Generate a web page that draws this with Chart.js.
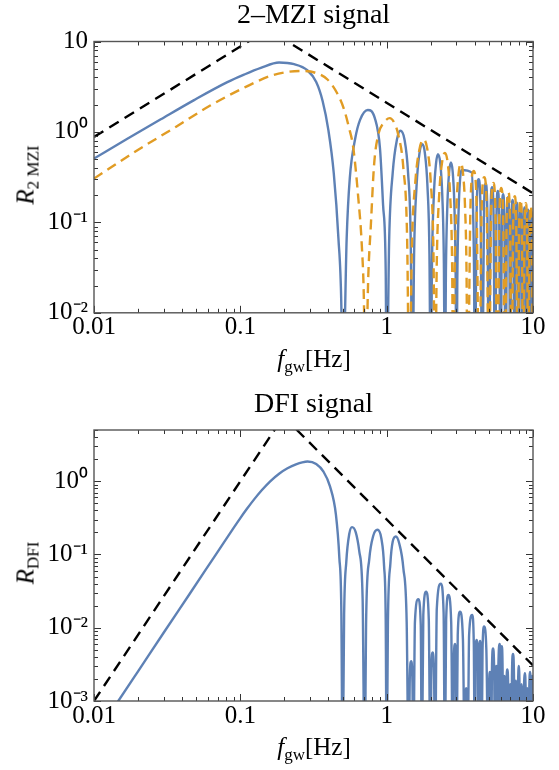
<!DOCTYPE html>
<html>
<head>
<meta charset="utf-8">
<title>2-MZI and DFI signal</title>
<script src="https://cdn.jsdelivr.net/npm/chart.js@4.4.1/dist/chart.umd.min.js"></script>
<style>
  body { margin: 0; background: #fff; }
  #page { position: relative; width: 559px; height: 770px; overflow: hidden;
          font-family: "Liberation Serif", "Times New Roman", serif; color: #000; }
  .plot { position: absolute; left: 0; width: 559px; height: 385px; }
  .title { position: absolute; left: 94px; width: 439px; text-align: center;
           font-size: 28px; line-height: 28px; }
  .lab { position: absolute; transform: translate(-50%, -50%); white-space: nowrap;
         font-size: 25px; line-height: 25px; }
  .ylab { transform: translate(-50%, -50%) rotate(-90deg); }
  .lab sub { font-size: 17px; vertical-align: -5px; line-height: 0; }
</style>
</head>
<body>
<div id="page">
  <div class="plot" style="top:0"><canvas id="mziChart" width="559" height="385"></canvas></div>
  <div class="plot" style="top:385px"><canvas id="dfiChart" width="559" height="385"></canvas></div>

  <div class="title" style="top:0">2–MZI signal</div>
  <div class="lab" style="left:314px; top:358px"><i>f</i><sub>gw</sub>[Hz]</div>
  <div class="lab ylab" style="left:25px; top:175px"><i>R</i><sub>2 MZI</sub></div>

  <div class="title" style="top:389px">DFI signal</div>
  <div class="lab" style="left:314px; top:746px"><i>f</i><sub>gw</sub>[Hz]</div>
  <div class="lab ylab" style="left:25px; top:563px"><i>R</i><sub>DFI</sub></div>
</div>
<script>
// tick values
const freqTicks = [0.01, 0.1, 1, 10];
const mziYTicks = [0.01, 0.1, 1, 10];
const dfiYTicks = [0.001, 0.01, 0.1, 1];

// 2-MZI, solid blue curve (zeros put below the axis)
const mziFreq = [
  0.01, 0.0169, 0.0286, 0.0483, 0.0815, 0.106, 0.138, 0.184, 0.233, 0.287, 0.33, 0.365, 0.4, 0.435, 0.468, 0.49, 0.5,
  0.533, 0.56, 0.61, 0.658, 0.743, 0.83, 0.9, 0.945, 0.985, 1.0,
  1.04, 1.1, 1.175, 1.24, 1.325, 1.4, 1.46, 1.5,
  1.54, 1.6, 1.675, 1.76, 1.825, 1.9, 1.96, 2.0,
  2.04, 2.1, 2.175, 2.24, 2.325, 2.4, 2.46, 2.5,
  2.54, 2.6, 2.675, 2.75, 2.825, 2.9, 2.96, 3.0,
  3.04, 3.1, 3.175, 3.24, 3.82, 3.9, 3.96, 4.0,
  4.125, 4.25, 4.375, 4.5, 4.625, 4.75, 4.875, 5.0,
  5.125, 5.25, 5.375, 5.5, 5.625, 5.75, 5.875, 6.0,
  6.125, 6.25, 6.375, 6.5, 6.625, 6.75, 6.875, 7.0,
  7.125, 7.25, 7.375, 7.5, 7.625, 7.75, 7.875, 8.0,
  8.125, 8.25, 8.375, 8.5, 8.625, 8.75, 8.875, 9.0,
  9.125, 9.25, 9.375, 9.5, 9.625, 9.75, 9.875, 10.0
];
const mziSolid = [
  0.508, 0.84, 1.38, 2.25, 3.55, 4.3, 5.1, 5.85, 5.61, 4.81, 3.57, 2.2, 1.04, 0.35, 0.067, 0.012, 0.001,
  0.067, 0.31, 0.85, 1.36, 1.75, 1.42, 0.66, 0.156, 0.029, 0.001,
  0.064, 0.355, 0.82, 1.03, 0.82, 0.355, 0.064, 0.001,
  0.045, 0.25, 0.58, 0.73, 0.58, 0.25, 0.045, 0.001,
  0.035, 0.196, 0.45, 0.567, 0.45, 0.196, 0.035, 0.001,
  0.028, 0.159, 0.365, 0.46, 0.365, 0.159, 0.028, 0.001,
  0.024, 0.13, 0.3, 0.38, 0.355, 0.125, 0.022, 0.001,
  0.15, 0.3, 0.15, 0.001, 0.135, 0.27, 0.135, 0.001,
  0.122, 0.245, 0.122, 0.001, 0.111, 0.222, 0.111, 0.001,
  0.102, 0.205, 0.102, 0.001, 0.095, 0.19, 0.095, 0.001,
  0.088, 0.177, 0.088, 0.001, 0.082, 0.165, 0.082, 0.001,
  0.077, 0.155, 0.077, 0.001, 0.073, 0.146, 0.073, 0.001,
  0.069, 0.138, 0.069, 0.001, 0.065, 0.131, 0.065, 0.001
];

// 2-MZI, dashed orange curve
const mziDashFreq = [
  0.01, 0.0198, 0.0362, 0.0627, 0.109, 0.161, 0.21, 0.267, 0.327, 0.394, 0.46, 0.51, 0.55, 0.592, 0.64, 0.676, 0.7, 0.714,
  0.748, 0.78, 0.82, 0.876, 0.95, 1.05, 1.13, 1.2, 1.3, 1.38, 1.429,
  1.486, 1.571, 1.679, 1.786, 1.893, 2.0, 2.086, 2.143,
  2.2, 2.286, 2.393, 2.5, 2.607, 2.714, 2.8, 2.857,
  2.914, 3.0, 3.107, 3.214, 3.321, 3.429, 3.514, 3.571,
  3.75, 3.929, 4.107, 4.286, 4.464, 4.643, 4.821, 5.0,
  5.179, 5.357, 5.536, 5.714, 5.893, 6.071, 6.25, 6.429,
  6.607, 6.786, 6.964, 7.143, 7.321, 7.5, 7.679, 7.857,
  8.036, 8.214, 8.393, 8.571, 8.75, 8.929, 9.107, 9.286,
  9.464, 9.643, 9.821, 10.0
];
const mziDashed = [
  0.305, 0.627, 1.136, 1.97, 3.15, 4.17, 4.61, 4.73, 4.5, 3.8, 2.66, 1.8, 1.15, 0.66, 0.185, 0.056, 0.012, 0.001,
  0.024, 0.094, 0.43, 0.93, 1.25, 1.42, 1.25, 0.93, 0.4, 0.065, 0.001,
  0.051, 0.284, 0.654, 0.824, 0.654, 0.284, 0.051, 0.001,
  0.036, 0.202, 0.465, 0.586, 0.465, 0.202, 0.036, 0.001,
  0.028, 0.154, 0.355, 0.447, 0.355, 0.154, 0.028, 0.001,
  0.185, 0.37, 0.185, 0.001, 0.158, 0.315, 0.158, 0.001,
  0.136, 0.272, 0.136, 0.001, 0.12, 0.24, 0.12, 0.001,
  0.108, 0.215, 0.108, 0.001, 0.098, 0.195, 0.098, 0.001,
  0.089, 0.178, 0.089, 0.001, 0.082, 0.163, 0.082, 0.001,
  0.076, 0.152, 0.076, 0.001
];

// 2-MZI, black dashed bound
const mziBoundFreq = [0.01, 0.1545, 10];
const mziBound = [0.88, 13.6, 0.21];

// DFI, solid blue curve
const dfiFreq = [
  0.01, 0.01466, 0.02, 0.03, 0.045, 0.068, 0.09, 0.1, 0.11, 0.125, 0.14, 0.16, 0.185, 0.21, 0.24, 0.265, 0.288,
  0.33, 0.37, 0.41, 0.45, 0.475, 0.49, 0.5,
  0.512, 0.53, 0.555, 0.58, 0.615, 0.65, 0.685, 0.707,
  0.725, 0.76, 0.81, 0.865, 0.92, 0.96, 0.985, 1.0,
  1.02, 1.06, 1.1, 1.155, 1.22, 1.3, 1.37, 1.414,
  1.44, 1.47, 1.5, 1.52, 1.56, 1.645, 1.71, 1.74,
  1.78, 1.86, 1.94, 1.99, 2.02, 2.06, 2.11, 2.14,
  2.2, 2.345, 2.45, 2.5, 2.55, 2.64, 2.76, 2.83,
  2.88, 2.93, 2.97, 3.0, 3.06, 3.17, 3.32, 3.42,
  3.47, 3.5, 3.54, 3.57, 3.66, 3.84, 3.94, 4.0,
  4.04, 4.12, 4.19, 4.24, 4.28, 4.35, 4.41, 4.45,
  4.52, 4.63, 4.8, 4.95, 5.0, 5.08, 5.14, 5.17,
  5.24, 5.33, 5.43, 5.5, 5.55, 5.62, 5.68, 5.72,
  5.8, 5.92, 5.98, 6.02, 6.06, 6.12, 6.2, 6.25,
  6.32, 6.4, 6.45, 6.5, 6.58, 6.67, 6.78, 6.85,
  6.92, 6.98, 7.05, 7.1, 7.18, 7.3, 7.42, 7.5,
  7.57, 7.65, 7.73, 7.8, 7.9, 8.0, 8.1, 8.2,
  8.28, 8.35, 8.43, 8.5, 8.65, 8.8, 8.92, 9.0,
  9.07, 9.15, 9.23, 9.3, 9.42, 9.55, 9.68, 9.8,
  9.85, 9.9, 9.95, 10.0
];
const dfiSignal = [
  0.00032, 0.001, 0.00254, 0.0086, 0.0289, 0.0997, 0.231, 0.314, 0.41, 0.574, 0.753, 0.997, 1.276, 1.504, 1.696, 1.81, 1.86,
  1.72, 1.35, 0.85, 0.35, 0.09, 0.017, 0.0001,
  0.015, 0.08, 0.19, 0.236, 0.2, 0.11, 0.025, 0.0001,
  0.015, 0.085, 0.18, 0.217, 0.165, 0.07, 0.013, 0.0001,
  0.012, 0.075, 0.15, 0.176, 0.14, 0.065, 0.012, 0.0001,
  0.0022, 0.0035, 0.0018, 0.0001, 0.012, 0.0245, 0.011, 0.0001,
  0.015, 0.031, 0.013, 0.0001, 0.0028, 0.0046, 0.002, 0.0001,
  0.018, 0.04, 0.016, 0.0001, 0.013, 0.028, 0.012, 0.0001,
  0.004, 0.006, 0.003, 0.0001, 0.008, 0.0165, 0.007, 0.0001,
  0.0012, 0.0015, 0.001, 0.0001, 0.008, 0.015, 0.006, 0.0001,
  0.0035, 0.0068, 0.003, 0.0001, 0.0035, 0.0066, 0.003, 0.0001,
  0.005, 0.0104, 0.005, 0.0001, 0.0014, 0.0025, 0.0012, 0.0001,
  0.0026, 0.0052, 0.0025, 0.0001, 0.0015, 0.003, 0.0014, 0.0001,
  0.003, 0.006, 0.003, 0.0001, 0.0028, 0.0056, 0.0025, 0.0001,
  0.0012, 0.0022, 0.001, 0.0001, 0.0014, 0.0027, 0.0013, 0.0001,
  0.0009, 0.0017, 0.0008, 0.0001, 0.0022, 0.0044, 0.002, 0.0001,
  0.001, 0.0019, 0.0009, 0.0001, 0.0015, 0.003, 0.0014, 0.0001,
  0.0009, 0.0017, 0.0008, 0.0001, 0.0012, 0.0024, 0.0011, 0.0001,
  0.0008, 0.0015, 0.0007, 0.0001, 0.0013, 0.0025, 0.0012, 0.0001,
  0.0012, 0.0022, 0.001, 0.0001
];

// DFI, black dashed bound
const dfiBoundFreq = [0.01, 0.197, 10];
const dfiBound = [0.001, 7.62, 0.00306];

(function () {
  const BLUE = "#5e81b5";
  const ORANGE = "#e19c24";
  const FONT = "'Liberation Serif', 'Times New Roman', serif";
  const SUP = { "-": "\u207b", "0": "\u2070", "1": "\u00b9", "2": "\u00b2", "3": "\u00b3" };

  function el(id) {
    return document.getElementById(id);
  }

  function pairs(xs, ys) {
    return xs.map((x, i) => ({ x: x, y: ys[i] }));
  }

  function powerLabel(v) {
    const e = Math.round(Math.log10(v));
    if (e === 1) return "10";
    return "10" + String(e).split("").map((c) => SUP[c]).join("");
  }

  // 1..9 x 10^k steps for the frame ticks
  function logSteps(min, max) {
    const out = [];
    for (let k = Math.floor(Math.log10(min)); k <= Math.ceil(Math.log10(max)); k++) {
      for (let m = 1; m <= 9; m++) {
        const v = m * Math.pow(10, k);
        if (v >= min * 0.999 && v <= max * 1.001) out.push({ v: v, major: m === 1 });
      }
    }
    return out;
  }

  // Mathematica-like frame with inward ticks on all four sides
  const frameTicks = {
    id: "frameTicks",
    afterDatasetsDraw(chart) {
      const { ctx, chartArea: a } = chart;
      const xs = chart.scales.x;
      const ys = chart.scales.y;
      ctx.save();
      ctx.strokeStyle = "#333";
      ctx.lineWidth = 1;
      ctx.beginPath();
      logSteps(xs.min, xs.max).forEach((t) => {
        const p = Math.round(xs.getPixelForValue(t.v)) + 0.5;
        const len = t.major ? 7 : 4;
        ctx.moveTo(p, a.bottom); ctx.lineTo(p, a.bottom - len);
        ctx.moveTo(p, a.top); ctx.lineTo(p, a.top + len);
      });
      logSteps(ys.min, ys.max).forEach((t) => {
        const p = Math.round(ys.getPixelForValue(t.v)) + 0.5;
        const len = t.major ? 7 : 4;
        ctx.moveTo(a.left, p); ctx.lineTo(a.left + len, p);
        ctx.moveTo(a.right, p); ctx.lineTo(a.right - len, p);
      });
      ctx.stroke();
      ctx.strokeStyle = "#555";
      ctx.lineWidth = 1.4;
      ctx.strokeRect(a.left, a.top, a.right - a.left, a.bottom - a.top);
      ctx.restore();
    },
  };

  function curve(data, color, dashed) {
    return {
      data: data,
      borderColor: color,
      borderWidth: 2.4,
      borderDash: dashed ? [10, 6] : [],
      pointRadius: 0,
      fill: false,
      clip: 0,
      tension: 0.4,
      cubicInterpolationMode: "monotone",
    };
  }

  function bound(data) {
    return {
      data: data,
      borderColor: "#000",
      borderWidth: 2.4,
      borderDash: [11, 7],
      pointRadius: 0,
      fill: false,
      clip: 0,
      tension: 0,
    };
  }

  function makeChart(id, datasets, yMin, yMax, yTicks, areaTop, xAxisHeight) {
    return new Chart(el(id), {
      type: "line",
      data: { datasets: datasets },
      options: {
        responsive: false,
        animation: false,
        devicePixelRatio: 1,
        events: [],
        layout: { padding: { top: areaTop, right: 26, left: 0, bottom: 0 } },
        plugins: { legend: { display: false }, tooltip: { enabled: false }, title: { display: false } },
        scales: {
          x: {
            type: "logarithmic",
            min: 0.01,
            max: 10,
            grid: { display: false, drawTicks: false },
            border: { display: false },
            afterBuildTicks: (s) => { s.ticks = freqTicks.map((v) => ({ value: v })); },
            afterFit: (s) => { s.height = xAxisHeight; },
            ticks: {
              autoSkip: false, maxRotation: 0, minRotation: 0, padding: 0, color: "#000",
              font: { family: FONT, size: 25 },
              callback: (v) => String(v),
            },
          },
          y: {
            type: "logarithmic",
            min: yMin,
            max: yMax,
            grid: { display: false, drawTicks: false },
            border: { display: false },
            afterBuildTicks: (s) => { s.ticks = yTicks.map((v) => ({ value: v })); },
            afterFit: (s) => { s.width = 94; },
            ticks: {
              autoSkip: false, padding: 6, color: "#000",
              font: { family: FONT, size: 25 },
              callback: (v) => powerLabel(v),
            },
          },
        },
      },
      plugins: [frameTicks],
    });
  }

  makeChart(
    "mziChart",
    [
      curve(pairs(mziDashFreq, mziDashed), ORANGE, true),
      curve(pairs(mziFreq, mziSolid), BLUE, false),
      bound(pairs(mziBoundFreq, mziBound)),
    ],
    0.01, 10, mziYTicks, 41.5, 385 - 312.8
  );

  makeChart(
    "dfiChart",
    [
      curve(pairs(dfiFreq, dfiSignal), BLUE, false),
      bound(pairs(dfiBoundFreq, dfiBound)),
    ],
    0.001, 5, dfiYTicks, 45, 385 - 316
  );
})();
</script>
</body>
</html>
